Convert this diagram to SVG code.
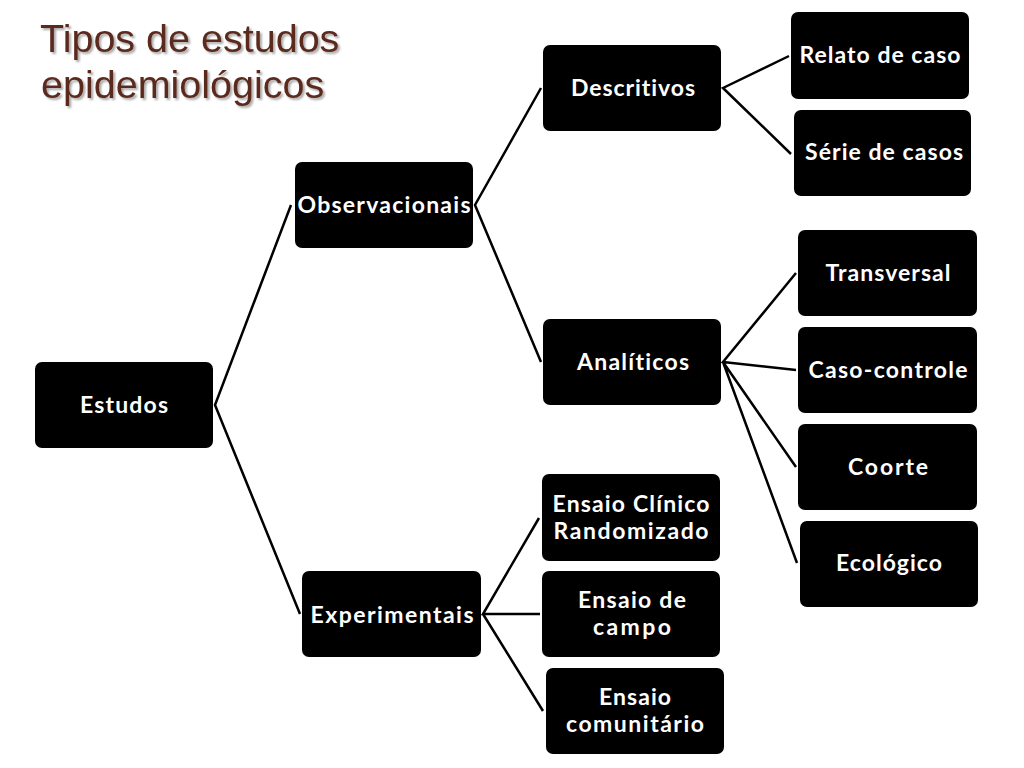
<svg xmlns="http://www.w3.org/2000/svg" width="1024" height="768" viewBox="0 0 1024 768">
<defs>
<filter id="sh" x="-10%" y="-10%" width="130%" height="130%">
<feGaussianBlur in="SourceAlpha" stdDeviation="1.2"/>
<feOffset dx="1.5" dy="1.5" result="o"/>
<feComponentTransfer><feFuncA type="linear" slope="0.35"/></feComponentTransfer>
<feMerge><feMergeNode/><feMergeNode in="SourceGraphic"/></feMerge>
</filter>
</defs>
<style>
.box{fill:#000;}
.lbl{fill:#fff;font-family:Lato,"Open Sans","DejaVu Sans",sans-serif;font-weight:bold;font-size:23px;text-anchor:middle;font-variant-ligatures:none;}
.title{fill:#5b2b1f;font-family:"Liberation Sans",Arial,sans-serif;font-size:39.5px;}
.con{stroke:#000;stroke-width:2.5;fill:none;}
</style>
<rect width="1024" height="768" fill="#fff"/>
<g id="title" filter="url(#sh)">
<text class="title" x="40" y="52">Tipos de estudos</text>
<text class="title" x="41" y="98">epidemiológicos</text>
</g>
<g id="connectors">
<path class="con" d="M291,205 L215,405 L300,614"/>
<path class="con" d="M541,88 L475,205 L541,362"/>
<path class="con" d="M789,56 L723,88 L791,154"/>
<path class="con" d="M796,273 L723,362 L796,370 M723,362 L796,467 M723,362 L797,563"/>
<path class="con" d="M539,518 L483,614 L540,614 M483,614 L543,711"/>
</g>
<g id="n-estudos"><rect class="box" x="35" y="362" width="178" height="86" rx="7"/><text class="lbl" x="124" y="413" textLength="88">Estudos</text></g>
<g id="n-observacionais"><rect class="box" x="295" y="162" width="178" height="86" rx="7"/><text class="lbl" x="384" y="213" textLength="173">Observacionais</text></g>
<g id="n-experimentais"><rect class="box" x="302" y="571" width="179" height="86" rx="7"/><text class="lbl" x="392" y="623" textLength="163">Experimentais</text></g>
<g id="n-descritivos"><rect class="box" x="543" y="45" width="178" height="86" rx="7"/><text class="lbl" x="633" y="96" textLength="124">Descritivos</text></g>
<g id="n-analiticos"><rect class="box" x="543" y="319" width="178" height="86" rx="7"/><text class="lbl" x="633" y="370" textLength="112">Analíticos</text></g>
<g id="n-relato"><rect class="box" x="791" y="12" width="178" height="87" rx="7"/><text class="lbl" x="880" y="63" textLength="161">Relato de caso</text></g>
<g id="n-serie"><rect class="box" x="794" y="110" width="177" height="86" rx="7"/><text class="lbl" x="884" y="160" textLength="158">Série de casos</text></g>
<g id="n-transversal"><rect class="box" x="798" y="230" width="179" height="86" rx="7"/><text class="lbl" x="888" y="281" textLength="125">Transversal</text></g>
<g id="n-casocontrole"><rect class="box" x="798" y="327" width="179" height="86" rx="7"/><text class="lbl" x="888" y="378" textLength="159">Caso-controle</text></g>
<g id="n-coorte"><rect class="box" x="798" y="424" width="179" height="86" rx="7"/><text class="lbl" x="888" y="475" textLength="80">Coorte</text></g>
<g id="n-ecologico"><rect class="box" x="800" y="521" width="178" height="86" rx="7"/><text class="lbl" x="889" y="571" textLength="106">Ecológico</text></g>
<g id="n-ecr"><rect class="box" x="542" y="474" width="178" height="87" rx="7"/><text class="lbl" x="631" y="512" textLength="157">Ensaio Clínico</text><text class="lbl" x="631" y="539" textLength="155">Randomizado</text></g>
<g id="n-campo"><rect class="box" x="542" y="571" width="178" height="86" rx="7"/><text class="lbl" x="632" y="608" textLength="108">Ensaio de</text><text class="lbl" x="632" y="635" textLength="78">campo</text></g>
<g id="n-comunitario"><rect class="box" x="546" y="668" width="178" height="86" rx="7"/><text class="lbl" x="635" y="705" textLength="72">Ensaio</text><text class="lbl" x="635" y="732" textLength="138">comunitário</text></g>
</svg>
